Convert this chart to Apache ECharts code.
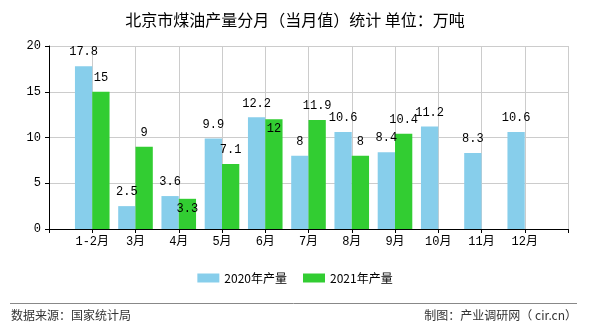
<!DOCTYPE html>
<html><head><meta charset="utf-8">
<script src="https://cdn.jsdelivr.net/npm/echarts@6/dist/echarts.min.js"></script>
<style>html,body{margin:0;padding:0;background:#fff}#c{width:590px;height:330px}</style>
</head><body><div id="c"></div>
<script>
const categories = ['', '1-2月', '3月', '4月', '5月', '6月', '7月', '8月', '9月', '10月', '11月', '12月', ''];
const values2020 = [null, 17.8, 2.5, 3.6, 9.9, 12.2, 8, 10.6, 8.4, 11.2, 8.3, 10.6, null];
const values2021 = [null, 15, 9, 3.3, 7.1, 12, 11.9, 8, 10.4, null, null, null, null];
const yTicks = [0, 5, 10, 15, 20];
const seriesNames = ['2020年产量', '2021年产量'];
const insideLabels2021 = [3, 5]; // indices whose labels sit inside the bar

const numFont = '"Liberation Mono", "Noto Sans CJK SC", monospace';
const cjkFont = '"Noto Sans CJK SC", sans-serif';
const chart = echarts.init(document.getElementById('c'), null, {renderer: 'canvas'});
chart.setOption({
  animation: false,
  title: {
    text: '北京市煤油产量分月（当月值）统计 单位：万吨',
    left: 'center', top: 7,
    textStyle: {fontSize: 16, fontWeight: 'normal', color: '#000', fontFamily: cjkFont}
  },
  legend: {
    bottom: 41, left: 'center', itemWidth: 22, itemHeight: 9, itemGap: 16, icon: 'rect',
    textStyle: {fontSize: 12, color: '#000', fontFamily: cjkFont},
    data: seriesNames
  },
  grid: {left: 49, right: 22, top: 46, bottom: 101},
  xAxis: {
    type: 'category', data: categories, boundaryGap: false,
    axisLine: {lineStyle: {color: '#000'}},
    axisTick: {alignWithLabel: true, length: 4, lineStyle: {color: '#000'}},
    axisLabel: {interval: 0, color: '#000', fontSize: 12, margin: 7, fontFamily: numFont},
    splitLine: {show: true, interval: 0, lineStyle: {color: '#ccc', width: 1}}
  },
  yAxis: {
    type: 'value', min: yTicks[0], max: yTicks[yTicks.length - 1], interval: 5,
    axisLine: {show: true, lineStyle: {color: '#000'}},
    axisTick: {show: true, length: 4, lineStyle: {color: '#000'}},
    axisLabel: {color: '#000', fontSize: 12, margin: 8, fontFamily: numFont},
    splitLine: {lineStyle: {color: '#ccc'}}
  },
  series: [
    {
      name: seriesNames[0], type: 'bar', data: values2020, barGap: '0%', barCategoryGap: '20%',
      itemStyle: {color: '#87CEEB'},
      label: {show: true, position: 'top', color: '#000', fontSize: 12, distance: 8, fontFamily: numFont}
    },
    {
      name: seriesNames[1], type: 'bar',
      data: values2021.map((v, i) => insideLabels2021.includes(i)
        ? {value: v, label: {position: 'insideTop', distance: 4}} : v),
      itemStyle: {color: '#32CD32'},
      label: {show: true, position: 'top', color: '#000', fontSize: 12, distance: 8, fontFamily: numFont}
    }
  ],
  graphic: [
    {type: 'line', shape: {x1: 10, y1: 303.5, x2: 577, y2: 303.5}, style: {stroke: '#888', lineWidth: 1}},
    {type: 'text', left: 11, top: 309, style: {text: '数据来源：国家统计局', fill: '#333', fontSize: 12, fontFamily: cjkFont}},
    {type: 'text', right: 13, top: 309, style: {text: '制图：产业调研网（ cir.cn）', fill: '#333', fontSize: 12, fontFamily: cjkFont}}
  ]
});
</script></body></html>
